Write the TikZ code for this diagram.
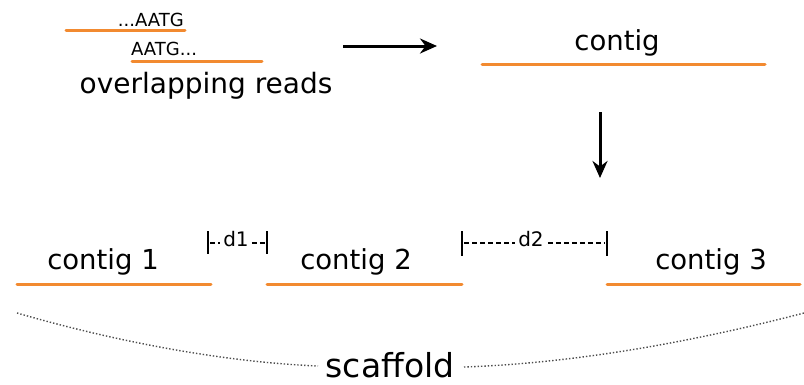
\documentclass[tikz,border=0pt]{standalone}
\usepackage{fontspec}
\setmainfont{DejaVu Sans}
\usetikzlibrary{arrows.meta}
\definecolor{contigorange}{HTML}{F28A30}
\tikzset{
  read/.style={draw=contigorange, line width=3pt, line cap=round},
  lbl/.style={inner sep=0pt, anchor=base, font=\fontsize{27.5}{30}\selectfont},
  small/.style={inner sep=0pt, font=\fontsize{18}{20}\selectfont},
  dlbl/.style={inner sep=0pt, anchor=base, font=\fontsize{20}{22}\selectfont},
  flow/.style={-{Stealth[length=17pt,width=15pt]}, line width=3pt},
  bar/.style={line width=1.5pt},
  gap/.style={dash pattern=on 5pt off 3pt, line width=1.3pt},
  scaf/.style={dotted, line width=1.4pt, black!70},
}
\begin{document}
\begin{tikzpicture}[x=1pt,y=-1pt]
\useasboundingbox (0,0) rectangle (804,384);
% overlapping reads
\coordinate (r1a) at (66,30); \coordinate (r1b) at (185,30);
\draw[read] (r1a) -- (r1b);
\node[small, anchor=base east] (t1) at (184,26) {...AATG};
\coordinate (r2a) at (132,61); \coordinate (r2b) at (262,61);
\draw[read] (r2a) -- (r2b);
\node[small, anchor=base west] (t2) at (131,55) {AATG...};
\node[lbl, font=\fontsize{28}{30}\selectfont] (ovl) at (206,93) {overlapping reads};
% arrow to contig
\coordinate (h1) at (343,46); \coordinate (h2) at (437,46);
\draw[flow] (h1) -- (h2);
\node[lbl] (ct) at (617,50) {contig};
\coordinate (ca) at (482,64); \coordinate (cb) at (765,64);
\draw[read] (ca) -- (cb);
\coordinate (v1) at (600,112); \coordinate (v2) at (600,178);
\draw[flow] (v1) -- (v2);
% contigs
\node[lbl] (c1) at (103,269) {contig 1};
\draw[read] (17,284) -- (211,284);
\node[lbl] (c2) at (356,269) {contig 2};
\draw[read] (267,284) -- (462,284);
\node[lbl] (c3) at (711,269) {contig 3};
\draw[read] (607,284) -- (800,284);
% gaps
\node[dlbl] (d1) at (236,246) {d1};
\draw[bar] (208,231) -- (208,254);
\draw[bar] (267,231) -- (267,254);
\draw[gap] (210,243) -- ([xshift=-3pt]d1.west |- 0,243);
\draw[gap] ([xshift=3pt]d1.east |- 0,243) -- (265,243);
\node[dlbl] (d2) at (531,246) {d2};
\draw[bar] (462,231) -- (462,256);
\draw[bar] (607,231) -- (607,256);
\draw[gap] (464,243) -- ([xshift=-3pt]d2.west |- 0,243);
\draw[gap] ([xshift=4pt]d2.east |- 0,243) -- (605,243);
% scaffold
\node[lbl, font=\fontsize{33}{35}\selectfont] (sc) at (390,377) {scaffold};
\coordinate (sl) at (17,313); \coordinate (sr) at (804,313);
\coordinate (sl2) at (318,366); \coordinate (sr2) at (464,367);
\draw[scaf] (sl) .. controls (110,340) and (220,362) .. (sl2);
\draw[scaf] (sr2) .. controls (580,363) and (700,340) .. (sr);
\end{tikzpicture}
\end{document}
